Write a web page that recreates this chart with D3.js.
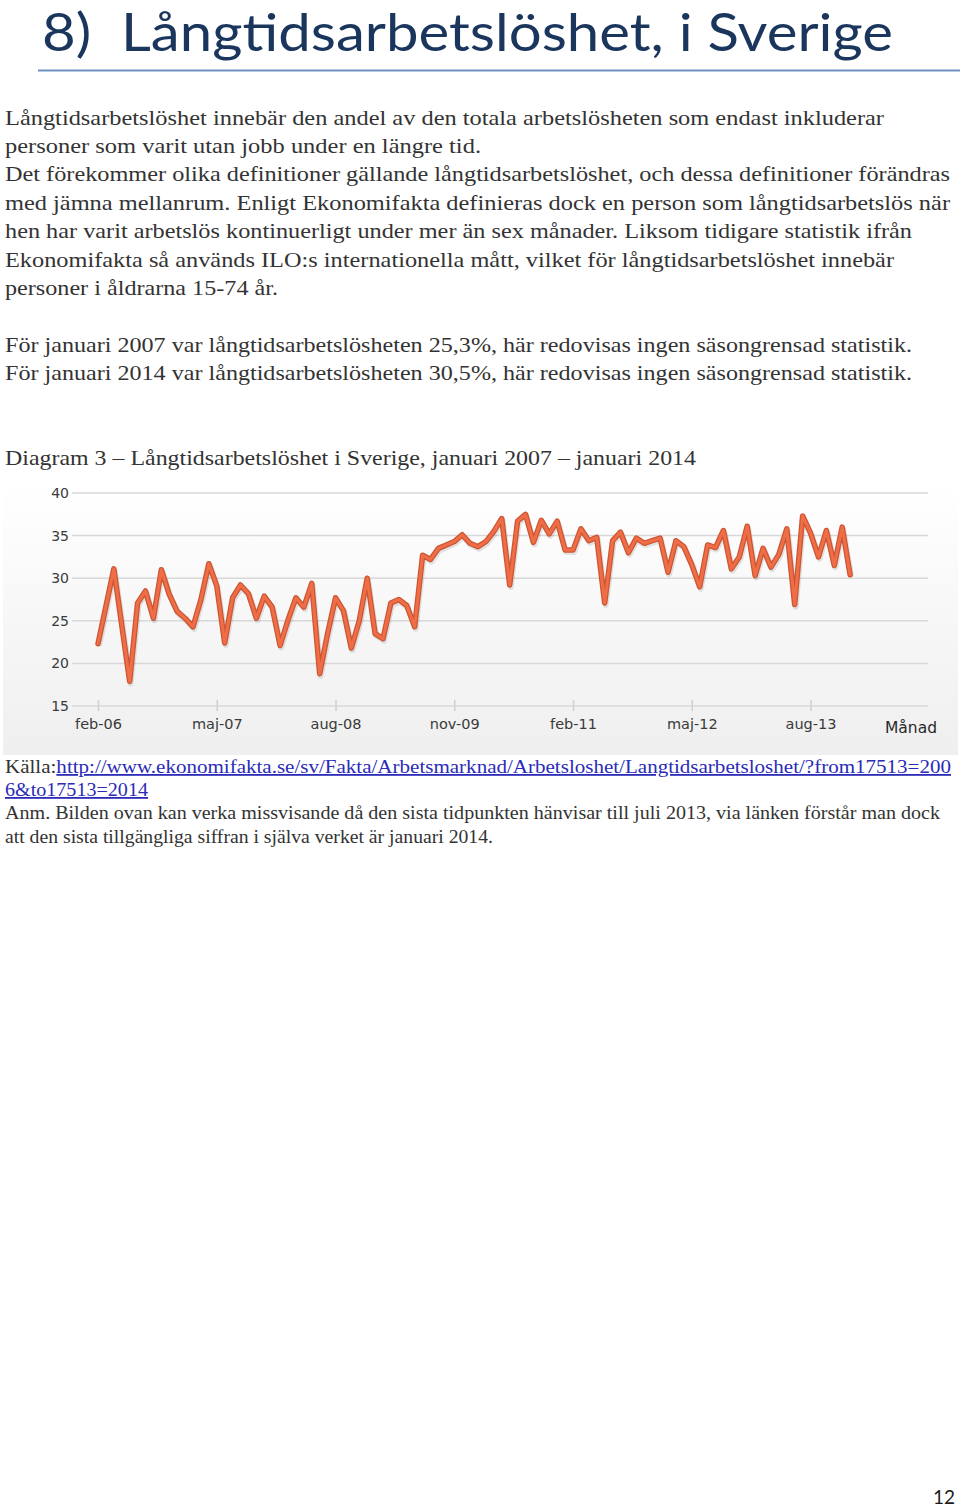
<!DOCTYPE html>
<html>
<head>
<meta charset="utf-8">
<script src="https://cdn.jsdelivr.net/npm/d3@7"></script>
<style>
  body { margin: 0; background: #fff; }
  svg { display: block; }
</style>
</head>
<body>
<div id="page"></div>
<script>
var svgWidth = 960;
var svgHeight = 1507;

// Swedish month abbreviations, series runs feb-06 .. jan-14
var monthNames = ["jan", "feb", "mar", "apr", "maj", "jun", "jul", "aug", "sep", "okt", "nov", "dec"];
var startYear = 2006;
var startMonth = 1; // feb

// long-term unemployment share (%)
var values = [
  22.3, 26.7, 31.1, 24.5, 17.9, 27.1, 28.5, 25.3, 31.0, 28.1, 26.1, 25.3,
  24.3, 27.5, 31.7, 29.1, 22.4, 27.7, 29.2, 28.2, 25.3, 27.9, 26.6, 22.1,
  25.1, 27.7, 26.6, 29.4, 18.8, 23.5, 27.7, 26.2, 21.8, 25.0, 30.0, 23.5,
  22.9, 27.1, 27.5, 26.8, 24.3, 32.7, 32.2, 33.5, 33.9, 34.3, 35.1, 34.1,
  33.7, 34.3, 35.5, 37.0, 29.2, 36.7, 37.5, 34.2, 36.8, 35.2, 36.7, 33.3,
  33.3, 35.8, 34.4, 34.8, 27.1, 34.4, 35.4, 33.0, 34.7, 34.1, 34.4, 34.7,
  30.7, 34.4, 33.7, 31.6, 29.0, 33.9, 33.6, 35.6, 31.1, 32.5, 36.1, 30.3,
  33.5, 31.3, 32.8, 35.8, 26.9, 37.3, 35.3, 32.5, 35.6, 31.5, 36.0, 30.4
];

var xTickLabels = ["feb-06", "maj-07", "aug-08", "nov-09", "feb-11", "maj-12", "aug-13"];
var yTicks = [15, 20, 25, 30, 35, 40];

var categories = values.map(function(v, i) {
  var m = startMonth + i;
  var yr = startYear + Math.floor(m / 12);
  return monthNames[m % 12] + "-" + String(yr).slice(2);
});

var titleText = "8)  Långtidsarbetslöshet, i Sverige";

var bodyLines = [
  "Långtidsarbetslöshet innebär den andel av den totala arbetslösheten som endast inkluderar",
  "personer som varit utan jobb under en längre tid.",
  "Det förekommer olika definitioner gällande långtidsarbetslöshet, och dessa definitioner förändras",
  "med jämna mellanrum. Enligt Ekonomifakta definieras dock en person som långtidsarbetslös när",
  "hen har varit arbetslös kontinuerligt under mer än sex månader. Liksom tidigare statistik ifrån",
  "Ekonomifakta så används ILO:s internationella mått, vilket för långtidsarbetslöshet innebär",
  "personer i åldrarna 15-74 år.",
  "För januari 2007 var långtidsarbetslösheten 25,3%, här redovisas ingen säsongrensad statistik.",
  "För januari 2014 var långtidsarbetslösheten 30,5%, här redovisas ingen säsongrensad statistik."
];
var diagramTitle = "Diagram 3 – Långtidsarbetslöshet i Sverige, januari 2007 – januari 2014";
var sourceLabel = "Källa:";
var sourceLink1 = "http://www.ekonomifakta.se/sv/Fakta/Arbetsmarknad/Arbetsloshet/Langtidsarbetsloshet/?from17513=200";
var sourceLink2 = "6&to17513=2014";
var noteLines = [
  "Anm. Bilden ovan kan verka missvisande då den sista tidpunkten hänvisar till juli 2013, via länken förstår man dock",
  "att den sista tillgängliga siffran i själva verket är januari 2014."
];

// layout
var bodyBaselines = [125, 153, 181, 210, 238, 267, 295, 352, 380];
var bodyWidths = [879, 476, 945, 945, 907, 889, 273, 907, 907];

var svg = d3.select("#page")
  .append("svg")
  .attr("width", svgWidth)
  .attr("height", svgHeight);

var serif = "'Liberation Serif', 'DejaVu Serif', serif";
var sans = "'DejaVu Sans', Verdana, sans-serif";

// heading
svg.append("text")
  .attr("x", 42)
  .attr("y", 51)
  .attr("font-family", "Lato, 'Open Sans', sans-serif")
  .attr("font-size", 53)
  .attr("fill", "#1b365d")
  .attr("textLength", 851)
  .attr("lengthAdjust", "spacingAndGlyphs")
  .style("white-space", "pre")
  .text(titleText);

svg.append("line")
  .attr("x1", 38).attr("x2", 960)
  .attr("y1", 70.5).attr("y2", 70.5)
  .attr("stroke", "#6e8fbf")
  .attr("stroke-width", 2);

// body text
svg.append("g")
  .selectAll("text")
  .data(bodyLines)
  .enter()
  .append("text")
  .attr("x", 5)
  .attr("y", (d, i) => bodyBaselines[i])
  .attr("textLength", (d, i) => bodyWidths[i])
  .attr("lengthAdjust", "spacingAndGlyphs")
  .attr("font-family", serif)
  .attr("font-size", 21)
  .attr("fill", "#333")
  .text(d => d);

svg.append("text")
  .attr("x", 5)
  .attr("y", 465)
  .attr("textLength", 691)
  .attr("lengthAdjust", "spacingAndGlyphs")
  .attr("font-family", serif)
  .attr("font-size", 21)
  .attr("fill", "#333")
  .text(diagramTitle);

// chart
var defs = svg.append("defs");
var grad = defs.append("linearGradient")
  .attr("id", "bg")
  .attr("x1", 0).attr("x2", 0).attr("y1", 0).attr("y2", 1);
grad.append("stop").attr("offset", "0%").attr("stop-color", "#ffffff");
grad.append("stop").attr("offset", "100%").attr("stop-color", "#efefef");

svg.append("rect")
  .attr("x", 3).attr("y", 483)
  .attr("width", 955).attr("height", 272)
  .attr("fill", "url(#bg)");

var xScale = d3.scalePoint()
  .domain(categories)
  .range([98, 98 + 7.917 * (categories.length - 1)]);

var yScale = d3.scaleLinear()
  .domain([15, 40])
  .range([706, 493]);

var chartGroup = svg.append("g");

// gridlines
chartGroup.append("g")
  .selectAll("line")
  .data(yTicks)
  .enter()
  .append("line")
  .attr("x1", 72).attr("x2", 928)
  .attr("y1", d => yScale(d)).attr("y2", d => yScale(d))
  .attr("stroke", "#d8d8d8")
  .attr("stroke-width", 1.5);

// y labels
var leftAxis = d3.axisLeft(yScale).tickValues(yTicks).tickSize(0).tickPadding(0);
var yAxis = chartGroup.append("g")
  .attr("transform", "translate(69,0)")
  .call(leftAxis);
yAxis.select(".domain").remove();
yAxis.selectAll("text")
  .attr("font-family", sans)
  .attr("font-size", 14)
  .attr("fill", "#3a3a3a");

// x axis
var bottomAxis = d3.axisBottom(xScale)
  .tickValues(xTickLabels)
  .tickSize(11)
  .tickPadding(8);
var xAxis = chartGroup.append("g")
  .attr("transform", "translate(0,700)")
  .call(bottomAxis);
xAxis.select(".domain").remove();
xAxis.selectAll("line").attr("stroke", "#cfcfcf").attr("stroke-width", 1.5);
xAxis.selectAll("text")
  .attr("font-family", sans)
  .attr("font-size", 14.5)
  .attr("fill", "#3a3a3a");

chartGroup.append("text")
  .attr("x", 885)
  .attr("y", 733)
  .attr("font-family", sans)
  .attr("font-size", 15.5)
  .attr("fill", "#2a2a2a")
  .text("Månad");

var line = d3.line()
  .x((d, i) => xScale(categories[i]))
  .y(d => yScale(d));

chartGroup.append("path")
  .datum(values)
  .attr("d", line)
  .attr("transform", "translate(1,2)")
  .attr("fill", "none")
  .attr("stroke", "#000")
  .attr("stroke-opacity", 0.1)
  .attr("stroke-width", 6)
  .attr("stroke-linejoin", "round");

chartGroup.append("path")
  .datum(values)
  .attr("d", line)
  .attr("fill", "none")
  .attr("stroke", "#cc5632")
  .attr("stroke-width", 5.5)
  .attr("stroke-linejoin", "round")
  .attr("stroke-linecap", "round");

chartGroup.append("path")
  .datum(values)
  .attr("d", line)
  .attr("fill", "none")
  .attr("stroke", "#ef6e48")
  .attr("stroke-width", 3)
  .attr("stroke-linejoin", "round")
  .attr("stroke-linecap", "round");

// source + note
var src = svg.append("text")
  .attr("x", 5)
  .attr("y", 773)
  .attr("font-family", serif)
  .attr("font-size", 18)
  .attr("fill", "#333")
  .attr("textLength", 946)
  .attr("lengthAdjust", "spacingAndGlyphs");
src.append("tspan").text(sourceLabel);
src.append("tspan")
  .attr("fill", "#2b2bb8")
  .attr("text-decoration", "underline")
  .text(sourceLink1);

svg.append("text")
  .attr("x", 5)
  .attr("y", 796)
  .attr("font-family", serif)
  .attr("font-size", 18)
  .attr("fill", "#2b2bb8")
  .attr("text-decoration", "underline")
  .attr("textLength", 143)
  .attr("lengthAdjust", "spacingAndGlyphs")
  .text(sourceLink2);

var noteWidths = [935, 488];
svg.append("g")
  .selectAll("text")
  .data(noteLines)
  .enter()
  .append("text")
  .attr("x", 5)
  .attr("y", (d, i) => 819 + i * 24)
  .attr("textLength", (d, i) => noteWidths[i])
  .attr("lengthAdjust", "spacingAndGlyphs")
  .attr("font-family", serif)
  .attr("font-size", 18)
  .attr("fill", "#333")
  .text(d => d);

// page number
svg.append("text")
  .attr("x", 955)
  .attr("y", 1504)
  .attr("text-anchor", "end")
  .attr("font-family", "Lato, sans-serif")
  .attr("font-size", 19)
  .attr("fill", "#1b1b1b")
  .text("12");
</script>
</body>
</html>
